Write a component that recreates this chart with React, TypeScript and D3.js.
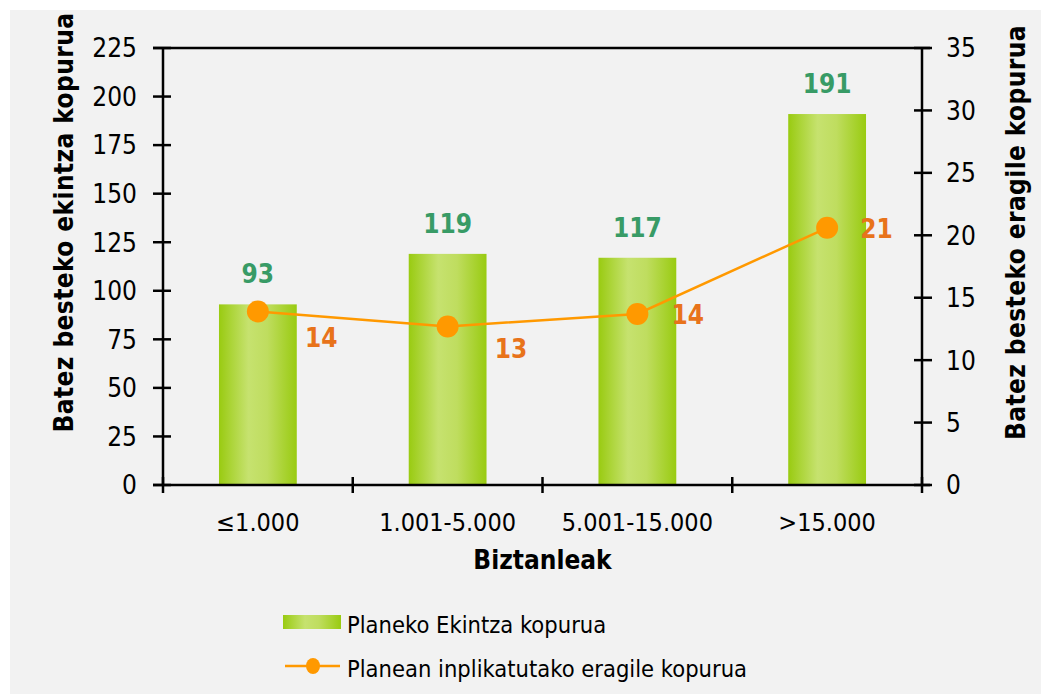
import React from 'react';
import * as d3 from 'd3';

const categories = ['≤1.000', '1.001-5.000', '5.001-15.000', '>15.000'];
const ekintzak = [93, 119, 117, 191];
const eragileak = [13.9, 12.7, 13.7, 20.6];
const leftTicks = [0, 25, 50, 75, 100, 125, 150, 175, 200, 225];
const rightTicks = [0, 5, 10, 15, 20, 25, 30, 35];

const seriesNames = ['Planeko Ekintza kopurua', 'Planean inplikatutako eragile kopurua'];

const WIDTH = 1041;
const HEIGHT = 694;
const margin = { top: 48, right: 119, bottom: 209, left: 163 };
const FONT = '"DejaVu Sans Condensed", "DejaVu Sans", Verdana, sans-serif';

// etiketen desplazamendua puntuarekiko (Excel-en kokapena imitatuz)
const lineLabelOffset = [
  { dx: 47, dy: 36 },
  { dx: 47, dy: 32 },
  { dx: 34, dy: 10 },
  { dx: 33, dy: 10 }
];

export default function App() {
  const chartW = WIDTH - margin.left - margin.right;
  const chartH = HEIGHT - margin.top - margin.bottom;

  const x = d3.scaleBand().domain(categories).range([0, chartW]).paddingInner(0.59).paddingOuter(0.295);
  const xTicks = d3.scaleLinear().domain([0, categories.length]).range([0, chartW]);
  const yL = d3.scaleLinear().domain([0, 225]).range([chartH, 0]);
  const yR = d3.scaleLinear().domain([0, 35]).range([chartH, 0]);

  const cx = (i: number) => (x(categories[i]) || 0) + x.bandwidth() / 2;

  const line = d3
    .line<number>()
    .x((_, i) => cx(i))
    .y(d => yR(d));

  return (
    <svg
      width={WIDTH}
      height={HEIGHT}
      style={{ position: 'absolute', left: 0, top: 0 }}
      fontFamily={FONT}
    >
      <defs>
        <linearGradient id="barGrad" x1="0" x2="1" y1="0" y2="0">
          <stop offset="0%" stopColor="#99cb11" />
          <stop offset="38%" stopColor="#c6e26f" />
          <stop offset="62%" stopColor="#bfdd5f" />
          <stop offset="100%" stopColor="#99cb11" />
        </linearGradient>
      </defs>
      <rect x={10} y={10} width={WIDTH - 10} height={HEIGHT - 10} fill="#f2f2f2" />

      {/* ardatzen izenburuak */}
      <text
        transform={`translate(73,${margin.top + chartH / 2 - 44}) rotate(-90)`}
        textAnchor="middle"
        fontSize={26}
        fontWeight="bold"
        letterSpacing={0.4}
      >
        Batez besteko ekintza kopurua
      </text>
      <text
        transform={`translate(1025,${margin.top + chartH / 2 - 34}) rotate(-90)`}
        textAnchor="middle"
        fontSize={26}
        fontWeight="bold"
        letterSpacing={0.4}
      >
        Batez besteko eragile kopurua
      </text>

      <g transform={`translate(${margin.left},${margin.top})`}>
        {/* barrak */}
        {ekintzak.map((d, i) => (
          <g key={i}>
            <rect
              x={x(categories[i])}
              y={yL(d)}
              width={x.bandwidth()}
              height={chartH - yL(d)}
              fill="url(#barGrad)"
            />
            <text
              x={cx(i)}
              y={yL(d) - 21}
              textAnchor="middle"
              fontSize={26}
              fontWeight="bold"
              fill="#389b66"
            >
              {d}
            </text>
          </g>
        ))}

        {/* ardatzak */}
        <line x1={-10} x2={chartW + 8} y1={0} y2={0} stroke="#000" strokeWidth={2.5} />
        <line x1={0} x2={0} y1={0} y2={chartH} stroke="#000" strokeWidth={2.5} />
        <line x1={chartW} x2={chartW} y1={0} y2={chartH} stroke="#000" strokeWidth={2.5} />
        <line x1={-10} x2={chartW + 8} y1={chartH} y2={chartH} stroke="#000" strokeWidth={2.5} />

        {leftTicks.map(t => (
          <g key={t} transform={`translate(0,${yL(t)})`}>
            <line x1={-10} x2={8} stroke="#000" strokeWidth={2.5} />
            <text x={-26} dy="0.36em" textAnchor="end" fontSize={26}>
              {t}
            </text>
          </g>
        ))}
        {rightTicks.map(t => (
          <g key={t} transform={`translate(${chartW},${yR(t)})`}>
            <line x1={-8} x2={10} stroke="#000" strokeWidth={2.5} />
            <text x={24} dy="0.36em" textAnchor="start" fontSize={26}>
              {t}
            </text>
          </g>
        ))}
        {d3.range(categories.length + 1).map(i => (
          <line
            key={i}
            x1={xTicks(i)}
            x2={xTicks(i)}
            y1={chartH - 8}
            y2={chartH + 8}
            stroke="#000"
            strokeWidth={2.5}
          />
        ))}
        {categories.map((c, i) => (
          <text key={c} x={cx(i)} y={chartH + 46} textAnchor="middle" fontSize={25}>
            {c}
          </text>
        ))}
        <text x={chartW / 2} y={chartH + 84} textAnchor="middle" fontSize={26} fontWeight="bold">
          Biztanleak
        </text>

        {/* lerroa */}
        <path d={line(eragileak) || ''} fill="none" stroke="#ff9900" strokeWidth={2.5} />
        {eragileak.map((d, i) => (
          <g key={i}>
            <circle cx={cx(i)} cy={yR(d)} r={11} fill="#ff9900" />
            <text
              x={cx(i) + lineLabelOffset[i].dx}
              y={yR(d) + lineLabelOffset[i].dy}
              fontSize={26}
              fontWeight="bold"
              fill="#e8731a"
            >
              {Math.round(d)}
            </text>
          </g>
        ))}
      </g>

      {/* legenda */}
      <g transform="translate(283,615)">
        <rect x={0} y={0} width={58} height={14} fill="url(#barGrad)" />
        <text x={64} y={18} fontSize={23.5}>
          {seriesNames[0]}
        </text>
        <line x1={2} x2={57} y1={51} y2={51} stroke="#ff9900" strokeWidth={2.5} />
        <ellipse cx={30} cy={51} rx={7} ry={8} fill="#ff9900" />
        <text x={64} y={62} fontSize={23.5}>
          {seriesNames[1]}
        </text>
      </g>
    </svg>
  );
}
